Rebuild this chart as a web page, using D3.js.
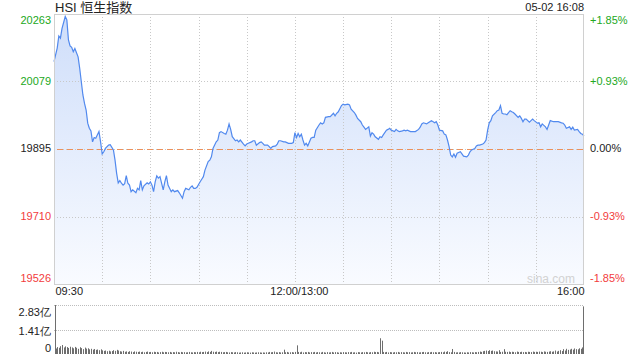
<!DOCTYPE html>
<html>
<head>
<meta charset="utf-8">
<script src="https://cdn.jsdelivr.net/npm/d3@7"></script>
<style>
  html, body { margin: 0; padding: 0; background: #fff; }
  svg { display: block; font-family: "Liberation Sans", Arial, "Noto Sans CJK SC", sans-serif; }
  .axis path.domain { display: none; }
  .axis text { font-size: 11px; }
</style>
</head>
<body>
<svg id="chart" width="640" height="360"></svg>
<script>
// minutes since 09:30 (lunch break removed, 330 = 16:00)
const priceMins = [
  0, 2, 3, 4, 5, 7, 8, 9, 10, 11, 12, 13, 15, 16, 17, 18, 19, 20, 21, 22,
  23, 24, 25, 26, 28, 29, 30, 31, 32, 34, 35, 37, 38, 39, 40, 41, 42, 43, 44, 45,
  46, 47, 48, 49, 51, 52, 53, 54, 55, 56, 58, 59, 60, 61, 62, 63, 64, 65, 66, 68,
  69, 70, 71, 73, 74, 75, 77, 78, 80, 81, 82, 84, 85, 86, 87, 88, 89, 91, 92, 93,
  94, 96, 97, 98, 99, 101, 102, 103, 104, 106, 107, 108, 109, 110, 111, 113, 114, 115, 116, 118,
  119, 120, 121, 123, 124, 125, 126, 128, 129, 130, 131, 133, 134, 135, 136, 138, 139, 140, 141, 143,
  144, 145, 146, 148, 149, 150, 151, 152, 153, 154, 155, 156, 157, 158, 160, 161, 162, 163, 165, 166,
  167, 168, 169, 171, 172, 174, 175, 176, 177, 179, 180, 181, 183, 184, 185, 187, 188, 189, 191, 192,
  193, 194, 196, 197, 198, 199, 200, 202, 203, 204, 205, 207, 208, 209, 210, 212, 213, 214, 215, 217,
  218, 219, 220, 222, 223, 224, 225, 227, 228, 229, 230, 232, 233, 234, 235, 237, 238, 239, 240, 242,
  243, 244, 245, 246, 247, 248, 249, 250, 251, 253, 254, 255, 257, 258, 259, 260, 262, 263, 264, 265,
  267, 268, 269, 270, 271, 272, 273, 275, 276, 277, 278, 279, 280, 281, 282, 284, 285, 286, 287, 289,
  290, 291, 292, 293, 294, 296, 297, 298, 299, 301, 302, 303, 304, 306, 307, 308, 309, 311, 312, 313,
  314, 316, 317, 318, 319, 321, 322, 323, 324, 326, 327, 328, 329, 330
];

const prices = [
  20133, 20170, 20203, 20197, 20224, 20256, 20247, 20192, 20176, 20172, 20160, 20169, 20146, 20115, 20078, 20042, 20019, 20001, 19965, 19951,
  19944, 19914, 19926, 19924, 19942, 19914, 19881, 19887, 19896, 19905, 19906, 19892, 19864, 19828, 19802, 19808, 19801, 19796, 19800, 19822,
  19801, 19796, 19778, 19783, 19775, 19787, 19783, 19808, 19783, 19794, 19802, 19799, 19805, 19796, 19778, 19805, 19821, 19815, 19819, 19783,
  19805, 19822, 19796, 19778, 19783, 19778, 19781, 19775, 19760, 19778, 19787, 19783, 19790, 19794, 19787, 19787, 19790, 19805, 19812, 19819,
  19837, 19860, 19864, 19873, 19896, 19914, 19919, 19939, 19942, 19937, 19935, 19946, 19963, 19948, 19928, 19917, 19919, 19914, 19919, 19908,
  19903, 19908, 19910, 19914, 19917, 19917, 19905, 19912, 19914, 19910, 19905, 19905, 19901, 19896, 19901, 19903, 19908, 19917, 19917, 19914,
  19914, 19912, 19910, 19910, 19912, 19939, 19926, 19937, 19928, 19935, 19919, 19905, 19910, 19903, 19924, 19926, 19926, 19946, 19960, 19966,
  19963, 19966, 19981, 19983, 19983, 19992, 19985, 19992, 19996, 20013, 20017, 20015, 20017, 20015, 20003, 19994, 19987, 19978, 19969, 19960,
  19954, 19948, 19955, 19930, 19939, 19935, 19928, 19921, 19928, 19926, 19933, 19946, 19948, 19951, 19946, 19942, 19948, 19944, 19942, 19944,
  19946, 19944, 19946, 19942, 19942, 19942, 19942, 19948, 19954, 19963, 19966, 19963, 19966, 19969, 19972, 19966, 19969, 19960, 19946, 19944,
  19935, 19933, 19919, 19901, 19878, 19873, 19881, 19872, 19883, 19887, 19881, 19875, 19873, 19878, 19887, 19892, 19896, 19903, 19905, 19905,
  19908, 19912, 19919, 19946, 19966, 19972, 19985, 19994, 19999, 20001, 20013, 19992, 19990, 19990, 19988, 19999, 19996, 19994, 19990, 19981,
  19985, 19978, 19969, 19976, 19976, 19968, 19972, 19976, 19972, 19965, 19966, 19955, 19963, 19955, 19948, 19960, 19972, 19969, 19969, 19969,
  19969, 19966, 19965, 19960, 19951, 19955, 19948, 19954, 19946, 19948, 19942, 19937, 19935, 19930
];

// volume per minute, in 亿 (index = minute)
const volumes = [
  2.83,
  .32, .40, .36, .45, .52, .38, .44, .40, .35, .42,
  .38, .33, .41, .36, .30, .39, .34, .28, .37, .31,
  .33, .27, .30, .25, .29, .24, .26, .22, .27, .21,
  .18, .20, .16, .19, .15, .17, .22, .18, .24, .20,
  .16, .14, .18, .13, .15, .12, .16, .14, .11, .15,
  .13, .12, .14, .11, .13, .10, .12, .14, .11, .12,
  .10, .13, .11, .12, .09, .11, .13, .10, .12, .11,
  .10, .12, .09, .11, .10, .13, .11, .09, .12, .10,
  .11, .09, .10, .12, .10, .09, .11, .10, .12, .10,
  .13, .11, .12, .14, .11, .15, .12, .18, .13, .12,
  .14, .11, .13, .12, .10, .11, .12, .10, .09, .11,
  .10, .09, .11, .10, .08, .09, .10, .08, .09, .10,
  .09, .08, .10, .09, .08, .09, .10, .09, .08, .09,
  .08, .10, .09, .12, .10, .11, .14, .10, .09, .11,
  .09, .10, .25, .10, .12, .09, .10, .11, .09, .12,
  .50, .12, .10, .13, .09, .11, .10, .12, .09, .11,
  .10, .12, .09, .11, .10, .09, .12, .10, .08, .11,
  .09, .10, .12, .09, .11, .10, .08, .10, .09, .11,
  .10, .09, .11, .10, .12, .09, .10, .08, .11, .10,
  .09, .11, .10, .12, .10, .09, .11, .10, .13, .11,
  .12, .10, .91, .77, .12, .10, .12, .09, .11, .10,
  .09, .11, .10, .12, .09, .11, .10, .09, .12, .10,
  .11, .09, .10, .12, .10, .11, .09, .10, .11, .12,
  .10, .09, .11, .10, .12, .10, .11, .09, .10, .11,
  .12, .10, .14, .12, .16, .11, .10, .29, .12, .09,
  .10, .09, .11, .10, .09, .08, .10, .09, .11, .10,
  .09, .11, .10, .12, .14, .12, .16, .18, .20, .17,
  .22, .18, .20, .16, .15, .14, .22, .12, .13, .28,
  .13, .12, .14, .11, .13, .12, .10, .14, .12, .11,
  .13, .11, .12, .10, .13, .12, .11, .14, .12, .13,
  .12, .14, .13, .11, .15, .13, .12, .14, .16, .13,
  .15, .20, .14, .18, .22, .17, .28, .20, .30, .24,
  .26, .30, .25, .32, .28, .27, .33, .30, .38,
  2.75
];

const prevClose = 19895;
const priceTicks = [20263, 20079, 19895, 19710, 19526];
const pctLabels = ['+1.85%', '+0.93%', '0.00%', '-0.93%', '-1.85%'];
const gridMins = [30, 60, 90, 120, 150, 180, 210, 240, 270, 300];
const timeTickMins = [0, 150, 330];
const timeTickLabels = ['09:30', '12:00/13:00', '16:00'];
const volTicks = [2.83, 1.41, 0];
const volTickLabels = ['2.83亿', '1.41亿', '0'];

class IntradayChart {

    constructor(_config) {
        this.config = {
            parentElement: _config.parentElement,
            left: 54, right: 584,
            top: 14, bottom: 284,
            volTop: 305, volBottom: 354
        };
        this.initVis();
    }

    initVis() {
        let vis = this;
        let c = vis.config;

        vis.svg = d3.select(c.parentElement);

        vis.xScale = d3.scaleLinear().domain([0, 330]).range([c.left, c.right]);
        vis.yScale = d3.scaleLinear().domain([19526, 20263]).range([c.bottom, c.top]);
        vis.volScale = d3.scaleLinear().domain([0, 2.83]).range([c.volBottom, c.volTop]);

        // gradient under the price line
        let grad = vis.svg.append('defs').append('linearGradient')
            .attr('id', 'areaFill')
            .attr('x1', 0).attr('y1', 0).attr('x2', 0).attr('y2', 1);
        grad.append('stop').attr('offset', '0%').attr('stop-color', '#cfdefa');
        grad.append('stop').attr('offset', '100%').attr('stop-color', '#f9fbff');

        vis.chart = vis.svg.append('g');
    }

    renderVis() {
        let vis = this;
        let c = vis.config;
        let pts = priceMins.map((m, i) => ({ m: m, v: prices[i] }));

        // area + line
        let area = d3.area()
            .x(d => vis.xScale(d.m))
            .y0(c.bottom)
            .y1(d => vis.yScale(d.v));
        let line = d3.line()
            .x(d => vis.xScale(d.m))
            .y(d => vis.yScale(d.v));

        vis.chart.append('path')
            .datum(pts)
            .attr('d', area)
            .attr('fill', 'url(#areaFill)');

        // grid lines
        vis.chart.selectAll('.vgrid')
            .data(gridMins)
            .join('line')
                .attr('class', 'vgrid')
                .attr('x1', d => Math.round(vis.xScale(d)) + 0.5)
                .attr('x2', d => Math.round(vis.xScale(d)) + 0.5)
                .attr('y1', c.top)
                .attr('y2', c.bottom)
                .attr('stroke', '#c8c8c8')
                .attr('stroke-dasharray', '1,2');

        vis.chart.selectAll('.hgrid')
            .data(priceTicks.slice(1, 4))
            .join('line')
                .attr('class', 'hgrid')
                .attr('x1', c.left)
                .attr('x2', c.right)
                .attr('y1', d => Math.round(vis.yScale(d)) + 0.5)
                .attr('y2', d => Math.round(vis.yScale(d)) + 0.5)
                .attr('stroke', '#c8c8c8')
                .attr('stroke-dasharray', '1,2');

        // previous close
        vis.chart.append('line')
            .attr('x1', c.left + 3)
            .attr('x2', c.right)
            .attr('y1', Math.round(vis.yScale(prevClose)) + 0.5)
            .attr('y2', Math.round(vis.yScale(prevClose)) + 0.5)
            .attr('stroke', '#ec915c')
            .attr('stroke-dasharray', '6,4');

        vis.chart.append('path')
            .datum(pts)
            .attr('d', line)
            .attr('fill', 'none')
            .attr('stroke', '#5189ee')
            .attr('stroke-width', 1.2);

        // frame
        vis.chart.append('rect')
            .attr('x', c.left + 0.5)
            .attr('y', c.top + 0.5)
            .attr('width', c.right - c.left - 1)
            .attr('height', c.bottom - c.top)
            .attr('fill', 'none')
            .attr('stroke', '#d0d0d0');

        // watermark
        vis.chart.append('text')
            .attr('x', 575)
            .attr('y', 283)
            .attr('text-anchor', 'end')
            .attr('font-size', 12)
            .attr('fill', '#d2d2d2')
            .text('sina.com');

        // price axis (left) and percent axis (right)
        let clampY = y => Math.max(c.top + 6, Math.min(c.bottom - 6, y));
        let colorOf = v => v > prevClose ? '#22a822' : (v < prevClose ? '#f23c3c' : '#222');

        let leftAxis = vis.svg.append('g')
            .attr('class', 'axis')
            .attr('transform', `translate(${c.left - 2},0)`)
            .call(d3.axisLeft(vis.yScale).tickValues(priceTicks).tickSize(0).tickPadding(1).tickFormat(d3.format('d')));
        leftAxis.selectAll('.tick')
            .attr('transform', d => `translate(0,${clampY(vis.yScale(d))})`);
        leftAxis.selectAll('text').attr('fill', colorOf);

        let rightAxis = vis.svg.append('g')
            .attr('class', 'axis')
            .attr('transform', `translate(${c.right + 4},0)`)
            .call(d3.axisRight(vis.yScale).tickValues(priceTicks).tickSize(0).tickPadding(2)
                .tickFormat((d, i) => pctLabels[i]));
        rightAxis.selectAll('.tick')
            .attr('transform', d => `translate(0,${clampY(vis.yScale(d))})`);
        rightAxis.selectAll('text').attr('fill', colorOf);

        // time axis
        let timeAxis = vis.svg.append('g')
            .attr('class', 'axis')
            .attr('transform', `translate(0,${c.bottom + 3})`)
            .call(d3.axisBottom(vis.xScale).tickValues(timeTickMins).tickSize(0).tickPadding(0)
                .tickFormat((d, i) => timeTickLabels[i]));
        timeAxis.selectAll('text')
            .attr('fill', '#222')
            .attr('text-anchor', (d, i) => i === 0 ? 'start' : (i === 2 ? 'end' : 'middle'))
            .attr('dx', (d, i) => i === 0 ? 1 : (i === 1 ? 4 : 0));

        // volume panel
        vis.chart.selectAll('.vgridVol')
            .data(volTicks.slice(0, 2))
            .join('line')
                .attr('class', 'vgridVol')
                .attr('x1', c.left)
                .attr('x2', c.right)
                .attr('y1', d => Math.round(vis.volScale(d)) + 0.5)
                .attr('y2', d => Math.round(vis.volScale(d)) + 0.5)
                .attr('stroke', '#bdbdbd')
                .attr('stroke-dasharray', '1,1');

        vis.chart.selectAll('.vol')
            .data(volumes)
            .join('rect')
                .attr('class', 'vol')
                .attr('x', (d, i) => Math.max(c.left + 1, Math.min(c.right - 1, Math.round(vis.xScale(i)))))
                .attr('y', d => vis.volScale(d))
                .attr('width', 1)
                .attr('height', d => c.volBottom - vis.volScale(d))
                .attr('fill', '#6e6e6e');

        let clampV = y => Math.max(c.volTop + 7, Math.min(c.volBottom - 6, y + 1.5));
        let volAxis = vis.svg.append('g')
            .attr('class', 'axis')
            .attr('transform', `translate(${c.left - 2},0)`)
            .call(d3.axisLeft(vis.volScale).tickValues(volTicks).tickSize(0).tickPadding(1)
                .tickFormat((d, i) => volTickLabels[i]));
        volAxis.selectAll('.tick')
            .attr('transform', d => `translate(0,${clampV(vis.volScale(d))})`);
        volAxis.selectAll('text').attr('fill', '#222');

        // header
        vis.svg.append('text')
            .attr('x', c.left + 1)
            .attr('y', 12)
            .attr('font-size', 13)
            .attr('fill', '#222')
            .text('HSI 恒生指数');

        vis.svg.append('text')
            .attr('x', c.right)
            .attr('y', 11)
            .attr('text-anchor', 'end')
            .attr('font-size', 11)
            .attr('fill', '#222')
            .text('05-02 16:08');
    }
}

let hsiChart = new IntradayChart({ parentElement: '#chart' });
hsiChart.renderVis();
</script>
</body>
</html>
